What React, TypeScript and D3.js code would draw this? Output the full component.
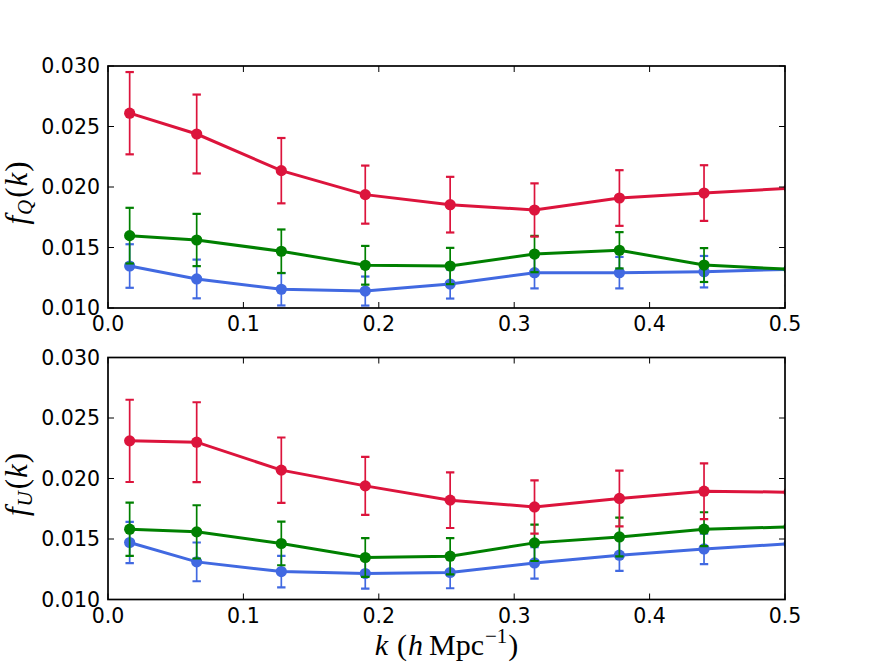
import React from 'react'
import * as d3 from 'd3'

const kValues = [0.016, 0.0655, 0.128, 0.19, 0.2527, 0.315, 0.3777, 0.4402, 0.503]

const qRed = [0.0261, 0.02438, 0.02135, 0.01937, 0.01854, 0.0181, 0.01909, 0.0195, 0.0199]
const qRedErr = [0.0034, 0.00326, 0.0027, 0.0024, 0.0023, 0.0022, 0.0023, 0.0023, 0.0023]
const qGreen = [0.01598, 0.01562, 0.01469, 0.01353, 0.01347, 0.01446, 0.01477, 0.01355, 0.0132]
const qGreenErr = [0.0023, 0.00216, 0.0018, 0.0016, 0.0015, 0.0015, 0.0015, 0.0014, 0.0014]
const qBlue = [0.01347, 0.0124, 0.01155, 0.0114, 0.01198, 0.01292, 0.01292, 0.013, 0.0132]
const qBlueErr = [0.0018, 0.0016, 0.00134, 0.0012, 0.0012, 0.0013, 0.0013, 0.0013, 0.0013]

const uRed = [0.02311, 0.023, 0.02069, 0.01939, 0.01821, 0.01765, 0.01835, 0.01895, 0.01887]
const uRedErr = [0.0034, 0.0033, 0.0027, 0.0024, 0.0023, 0.0022, 0.0023, 0.0023, 0.0023]
const uGreen = [0.01581, 0.01559, 0.01463, 0.01347, 0.01358, 0.01468, 0.01517, 0.01581, 0.016]
const uGreenErr = [0.0022, 0.0022, 0.0018, 0.0016, 0.0015, 0.0015, 0.0016, 0.0014, 0.0014]
const uBlue = [0.01471, 0.01311, 0.01231, 0.01215, 0.01223, 0.01302, 0.01366, 0.01418, 0.0146]
const uBlueErr = [0.0017, 0.0016, 0.0013, 0.00125, 0.0013, 0.0013, 0.0013, 0.00126, 0.0013]

const xTicks = [0, 0.1, 0.2, 0.3, 0.4, 0.5]
const yTicks = [0.01, 0.015, 0.02, 0.025, 0.03]

const colors = { red: '#dc143c', green: '#008000', blue: '#4169e1' }

type Series = { values: number[]; errs: number[]; color: string }

const width = 872
const height = 667
const left = 108
const right = 785
const panelHeight = 242
const tickLen = 6

const x = d3.scaleLinear().domain([0, 0.5]).range([left, right])

const Panel = ({ top, series, sub, id }: { top: number; series: Series[]; sub: string; id: string }) => {
  const y = d3.scaleLinear().domain([0.01, 0.03]).range([top + panelHeight, top])
  const line = d3
    .line<number>()
    .x((_, i) => x(kValues[i]))
    .y(d => y(d))
  const bottom = top + panelHeight
  const cy = top + panelHeight / 2 + 6

  return (
    <g>
      <clipPath id={id}>
        <rect x={left} y={top} width={right - left} height={panelHeight} />
      </clipPath>
      <g clipPath={`url(#${id})`}>
        {series.map(s => (
          <g key={s.color}>
            {s.values.map((v, i) => {
              const cx = x(kValues[i])
              const y0 = y(v - s.errs[i])
              const y1 = y(v + s.errs[i])
              return (
                <g key={i} stroke={s.color}>
                  <line x1={cx} x2={cx} y1={y0} y2={y1} strokeWidth={1.7} />
                  <line x1={cx - 4.2} x2={cx + 4.2} y1={y0} y2={y0} strokeWidth={2.2} />
                  <line x1={cx - 4.2} x2={cx + 4.2} y1={y1} y2={y1} strokeWidth={2.2} />
                </g>
              )
            })}
            <path d={line(s.values) || ''} fill="none" stroke={s.color} strokeWidth={3} />
            {s.values.map((v, i) => (
              <circle key={i} cx={x(kValues[i])} cy={y(v)} r={5.6} fill={s.color} />
            ))}
          </g>
        ))}
      </g>

      {xTicks.map(t => (
        <g key={t}>
          <line x1={x(t)} x2={x(t)} y1={bottom} y2={bottom - tickLen} stroke="#000" strokeWidth={1} />
          <line x1={x(t)} x2={x(t)} y1={top} y2={top + tickLen} stroke="#000" strokeWidth={1} />
          <text
            x={x(t)}
            y={bottom + 23}
            textAnchor="middle"
            fontFamily="DejaVu Sans"
            fontSize={20.5}
          >
            {t.toFixed(1)}
          </text>
        </g>
      ))}
      {yTicks.map(t => (
        <g key={t}>
          <line x1={left} x2={left + tickLen} y1={y(t)} y2={y(t)} stroke="#000" strokeWidth={1} />
          <line x1={right} x2={right - tickLen} y1={y(t)} y2={y(t)} stroke="#000" strokeWidth={1} />
          <text
            x={100}
            y={y(t)}
            dy="0.36em"
            textAnchor="end"
            fontFamily="DejaVu Sans"
            fontSize={20.5}
          >
            {t.toFixed(3)}
          </text>
        </g>
      ))}
      <rect x={left} y={top} width={right - left} height={panelHeight} fill="none" stroke="#000" strokeWidth={1.7} />

      <text
        transform={`translate(27, ${cy}) rotate(-90)`}
        textAnchor="middle"
        fontFamily="Liberation Serif"
        fontSize={31}
      >
        <tspan fontStyle="italic">f</tspan>
        <tspan fontStyle="italic" fontSize={21} dy={5} dx={1}>{sub}</tspan>
        <tspan dy={-5} dx={2}>(</tspan>
        <tspan fontStyle="italic" dx={1}>k</tspan>
        <tspan dx={1}>)</tspan>
      </text>
    </g>
  )
}

const App = () => {
  const qSeries: Series[] = [
    { values: qBlue, errs: qBlueErr, color: colors.blue },
    { values: qGreen, errs: qGreenErr, color: colors.green },
    { values: qRed, errs: qRedErr, color: colors.red },
  ]
  const uSeries: Series[] = [
    { values: uBlue, errs: uBlueErr, color: colors.blue },
    { values: uGreen, errs: uGreenErr, color: colors.green },
    { values: uRed, errs: uRedErr, color: colors.red },
  ]

  return (
    <svg
      width={width}
      height={height}
      style={{ position: 'absolute', left: 0, top: 0, background: '#fff' }}
    >
      <Panel top={66} series={qSeries} sub="Q" id="clipQ" />
      <Panel top={357.5} series={uSeries} sub="U" id="clipU" />
      <text
        x={(left + right) / 2}
        y={655}
        textAnchor="middle"
        fontFamily="Liberation Serif"
        fontSize={30}
      >
        <tspan fontStyle="italic">k</tspan>
        <tspan dx={9}>(</tspan>
        <tspan fontStyle="italic" dx={1}>h</tspan>
        <tspan dx={6}>Mpc</tspan>
        <tspan fontSize={21} dy={-12} dx={1}>−1</tspan>
        <tspan dy={12} dx={1}>)</tspan>
      </text>
    </svg>
  )
}

export default App
